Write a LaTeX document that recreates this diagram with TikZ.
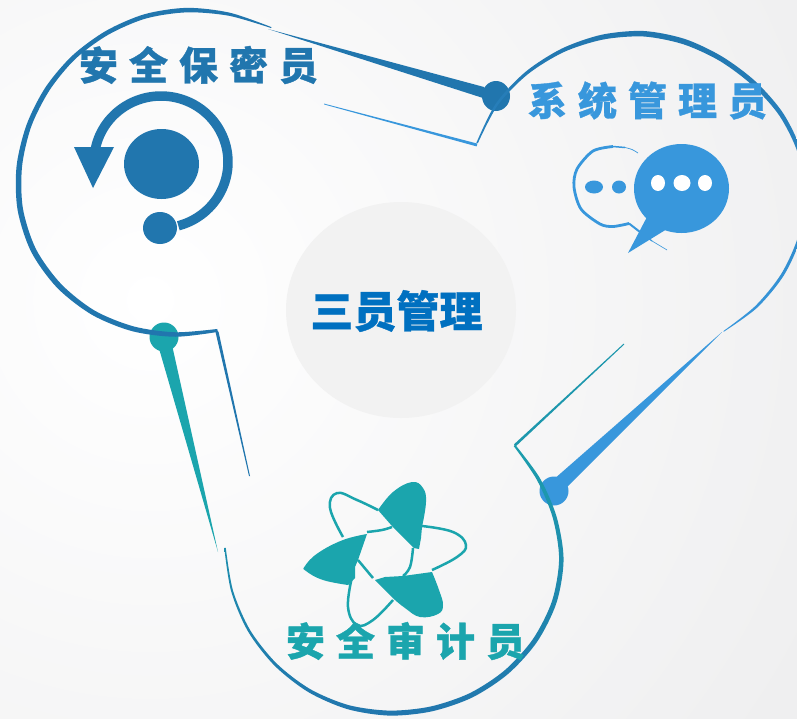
\documentclass[tikz,border=0pt]{standalone}
\usepackage{fontspec}
\newfontfamily\cjk[BoldFeatures={FakeBold=0.9}]{Noto Sans CJK SC}
\definecolor{cblue}{HTML}{2176AE}
\definecolor{lblue}{HTML}{3897DC}
\definecolor{teal1}{HTML}{1BA5AD}
\definecolor{title}{HTML}{0070C0}
\definecolor{bgedge}{HTML}{EFEFF0}
\definecolor{disc}{HTML}{F2F2F2}
% crescent ring: centre, path options, list of angle/radius/width
\newcommand\crescent[3]{%
 \gdef\outlist{}\gdef\inlist{}%
 \foreach \a/\r/\w in {#3}{%
   \pgfmathsetmacro\ro{\r+\w/2}%
   \pgfmathsetmacro\ri{\r-\w/2}%
   \xdef\outlist{\outlist (\a:\ro)}%
   \xdef\inlist{(\a:\ri) \inlist}%
 }%
 \begin{scope}[shift={#1}]
 \edef\temp{\noexpand\path[#2] plot[smooth] coordinates {\outlist} -- plot[smooth] coordinates {\inlist} -- cycle;}\temp
 \end{scope}%
}
\tikzset{
 rolelabel/.style={font=\cjk\bfseries\fontsize{39}{39}\selectfont,inner sep=0pt},
 leafline/.style={draw=teal1,line width=2.5pt,line join=round},
 ringA/.style={fill=cblue},
 ringB/.style={shade,top color=cblue,middle color=lblue!85!cblue,bottom color=lblue},
 ringC/.style={shade,top color=teal1!85!cblue,middle color=teal1!70!cblue,bottom color=cblue},
}
\newcommand\gapk{\kern11pt }
\begin{document}
\begin{tikzpicture}[x=1pt,y=-1pt]
\useasboundingbox (0,0) rectangle (797,718);
\begin{scope}
\clip (0,0) rectangle (797,718);
\shade[inner color=white,outer color=bgedge] (-600,-450) rectangle (900,1050);

% centre
\fill[disc] (401,310) ellipse [x radius=115,y radius=108];
\node[inner sep=0pt,text=title,font=\cjk\bfseries\fontsize{43}{43}\selectfont] (centre) at (396.5,311) {三员管理};

% anchor dots
\coordinate (dotA) at (496,96);
\coordinate (dotB) at (164,337);
\coordinate (dotC) at (554,491);

% wedges
\fill[cblue] (268,29) -- (484,87) -- (483,98) -- cycle;
\fill[teal1] (158,345) -- (172,345) -- (218,552) -- cycle;
\fill[lblue] (722,332) -- (553,480) -- (563,491) -- cycle;
\fill[cblue] (dotA) ellipse [x radius=14,y radius=15];
\fill[teal1] (dotB) circle (14.5);
\fill[lblue] (dotC) circle (14.5);

% thin connector lines
\fill[lblue] (324,103.6) -- (477.4,143.6) -- (476.6,146.4) -- (324,104.4) -- cycle;
\fill[cblue] (215.5,332) -- (218.5,331.5) -- (250,476) -- (249,476) -- cycle;
\fill[teal1!70!cblue] (624.3,344.4) -- (623.7,343.6) -- (514,444.3) -- (515.8,446.3) -- cycle;

% rings
\crescent{(181,172)}{ringA}{302/170.3/1,287/165/3.2,272/162/4.5,257/159.7/4.5,242/157.6/4.5,227/157/4.5,212/157.3/5,197/159/5,182/161.8/5.5,167/165/5.5,152/167/5.5,137/166.8/5.5,122/165.8/5,107/164/5,92/162.6/4.5,77/162.6/3}
\crescent{(640,195)}{ringB}{197.7/171/1.5,212.4/169.5/2.5,227.1/166.5/3.3,241.9/164/4,256.6/162.3/5,271.3/161.3/5.5,286/159.6/5.5,300.7/158.5/5,315.5/159.5/5,330.2/162.6/4.5,344.9/165.2/4,359.6/165.6/3.5,374.3/165/3,389/163.3/3,403.8/161.3/2.5,418.5/160/.8}
\crescent{(395,550)}{ringC}{180.7/170/1.5,165.9/168/2,151.1/166.8/2.5,136.3/165.5/3,121.5/164.7/3.5,106.7/164/4.2,91.9/163.2/5,77.2/163/5,62.4/164/5,47.6/165.3/5,32.8/166.7/5,18/167.5/4.8,3.2/166.6/4.5,-11.6/163/4,-26.4/160/3.5,-41.2/158.8/2}

% labels
\node[rolelabel,text=cblue] (labA) at (198.5,65) {安\gapk 全\gapk 保\gapk 密\gapk 员};
\node[rolelabel,text=lblue] (labB) at (647.5,100.5) {系\gapk 统\gapk 管\gapk 理\gapk 员};
\node[rolelabel,text=teal1] (labC) at (405.5,641) {安\gapk 全\gapk 审\gapk 计\gapk 员};

% icon 1
\fill[cblue] (161.5,164) ellipse [x radius=37.5,y radius=35];
\fill[cblue] (160,228) ellipse [x radius=17,y radius=16];
\draw[cblue,line width=9.5pt] plot[domain=75:-168,samples=60,smooth] ({161+67*cos(\x)},{162+66*sin(\x)});
\fill[cblue] (74,147) -- (114,147) -- (93,188) -- cycle;

% icon 2
\fill[lblue] (681.5,188.5) ellipse [x radius=47.5,y radius=44.5];
\fill[lblue] (648,215) -- (628,253) -- (667,229) -- cycle;
\fill[white] (658,183) ellipse [x radius=7,y radius=8];
\fill[white] (682,183) ellipse [x radius=8.5,y radius=8];
\fill[white] (705,183) ellipse [x radius=7,y radius=8];
\draw[lblue,line width=2.8pt,line join=round] plot[smooth] coordinates {(613,146.5) (593,151) (577,169) (574,187) (581,209) (600,224) (613,226.5) (629,223.5)};
\draw[lblue,line width=1.5pt] plot[smooth] coordinates {(613,146.5) (625,147.5)};
\draw[lblue,line width=.7pt] plot[smooth] coordinates {(625,147.5) (632,149.5) (638,153)};
\draw[lblue,line width=2pt] (629,223.5) -- (640,232);
\draw[lblue,line width=1.2pt] (640,232) -- (652,241);
\draw[lblue,line width=.6pt] (652,241) -- (667,250);
\fill[lblue] (594,187) ellipse [x radius=9,y radius=6.5];
\fill[lblue] (619,187) ellipse [x radius=7,y radius=6.5];

% icon 3
\fill[teal1] plot[smooth,tension=.7] coordinates {(378,510) (393,492) (412,482) (423,488) (426,502) (422,527)} -- (421,538) -- (419,549) -- (414,548) -- (392,526) -- cycle;
\fill[teal1] plot[smooth,tension=.7] coordinates {(367,534) (343,540) (318,553) (305,566) (306,571) (323,580) (348,585)} -- (355,578) -- (355,567) -- (358,560) -- cycle;
\fill[teal1] plot[smooth,tension=.7] coordinates {(432,572) (439,590) (443,605) (438,614) (420,617) (405,608) (395,600)} -- (375,580) -- (385,577) -- (403,576) -- cycle;
\draw[leafline] plot[smooth,tension=.7] coordinates {(378,510) (357,500) (337,493) (330,508) (343,537)};
\draw[leafline] plot[smooth,tension=.7] coordinates {(422,526) (453,532) (466,545) (457,557) (432,570)};
\draw[leafline] plot[smooth,tension=.7] coordinates {(393,600) (373,620) (357,625) (348,607) (352,577)};
\draw[leafline] plot[smooth,tension=.7] coordinates {(367,532) (382,530) (392,527)};
\draw[leafline] plot[smooth,tension=.7] coordinates {(413,548) (410,567) (403,576)};
\draw[leafline] plot[smooth,tension=.7] coordinates {(358,560) (373,578)};
\end{scope}
\end{tikzpicture}
\end{document}
